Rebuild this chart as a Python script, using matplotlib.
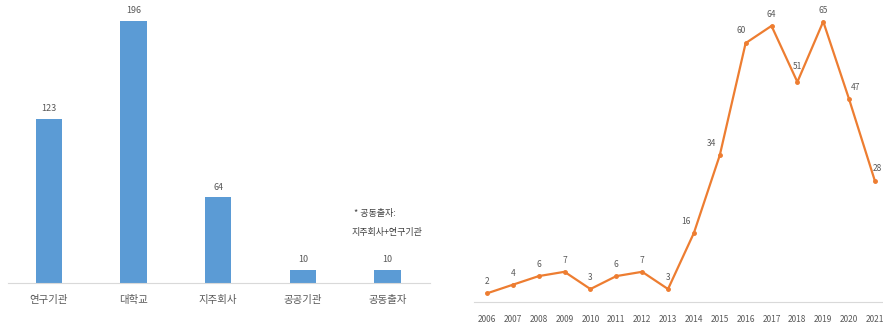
import matplotlib.pyplot as plt

plt.rcParams['font.family'] = ['Noto Sans CJK KR', 'DejaVu Sans']

# 출원인 유형별 건수
categories = ["연구기관", "대학교", "지주회사", "공공기관", "공동출자"]
counts = [123, 196, 64, 10, 10]

# 연도별 건수
years = [2006, 2007, 2008, 2009, 2010, 2011, 2012, 2013,
         2014, 2015, 2016, 2017, 2018, 2019, 2020, 2021]
yearly = [2, 4, 6, 7, 3, 6, 7, 3, 16, 34, 60, 64, 51, 65, 47, 28]

BLUE = "#5B9BD5"
ORANGE = "#ED7D31"
TEXT = "#595959"
AXIS = "#D9D9D9"

fig = plt.figure(figsize=(8.83, 3.26), dpi=100)

# 왼쪽: 막대 그래프
ax1 = fig.add_axes([8 / 883, 43 / 326, 422 / 883, 283 / 326])
x = range(len(categories))
ax1.bar(x, counts, width=0.31, color=BLUE)
for i, v in zip(x, counts):
    ax1.annotate(str(v), (i, v), xytext=(0, 4), textcoords="offset points",
                 ha="center", va="bottom", fontsize=6.5, color=TEXT)
ax1.set_xlim(-0.48, 4.5)
ax1.set_ylim(0, 211.7)
ax1.set_xticks(list(x))
ax1.set_xticklabels(categories, fontsize=7.5, color=TEXT)
ax1.tick_params(axis="x", length=0, pad=9)
ax1.set_yticks([])
for s in ["top", "right", "left"]:
    ax1.spines[s].set_visible(False)
ax1.spines["bottom"].set_color(AXIS)
ax1.text(3.6, 50, "* 공동출자:", fontsize=6.5, color="#404040")
ax1.text(3.57, 36, "지주회사+연구기관", fontsize=6.5, color="#404040")

# 오른쪽: 꺾은선 그래프
ax2 = fig.add_axes([474 / 883, 24 / 326, 409 / 883, 302 / 326])
ax2.plot(years, yearly, color=ORANGE, lw=1.6, marker="o", ms=2.5,
         clip_on=False)
# 라벨 위치 (points)
offsets = {2014: (-6, 5), 2015: (-6, 5), 2016: (-3, 6), 2018: (0, 8),
           2020: (5, 5), 2021: (2, 6)}
for yr, v in zip(years, yearly):
    dx, dy = offsets.get(yr, (0, 5))
    ax2.annotate(str(v), (yr, v), xytext=(dx, dy), textcoords="offset points",
                 ha="center", va="bottom", fontsize=6, color=TEXT,
                 annotation_clip=False)
ax2.set_xlim(2005.5, 2021.31)
ax2.set_ylim(0, 70)
ax2.set_xticks(years)
ax2.set_xticklabels([str(y) for y in years], fontsize=6, color=TEXT)
ax2.tick_params(axis="x", length=0, pad=9)
ax2.set_yticks([])
for s in ["top", "right", "left"]:
    ax2.spines[s].set_visible(False)
ax2.spines["bottom"].set_color(AXIS)

fig.savefig("out.png", dpi=100)
